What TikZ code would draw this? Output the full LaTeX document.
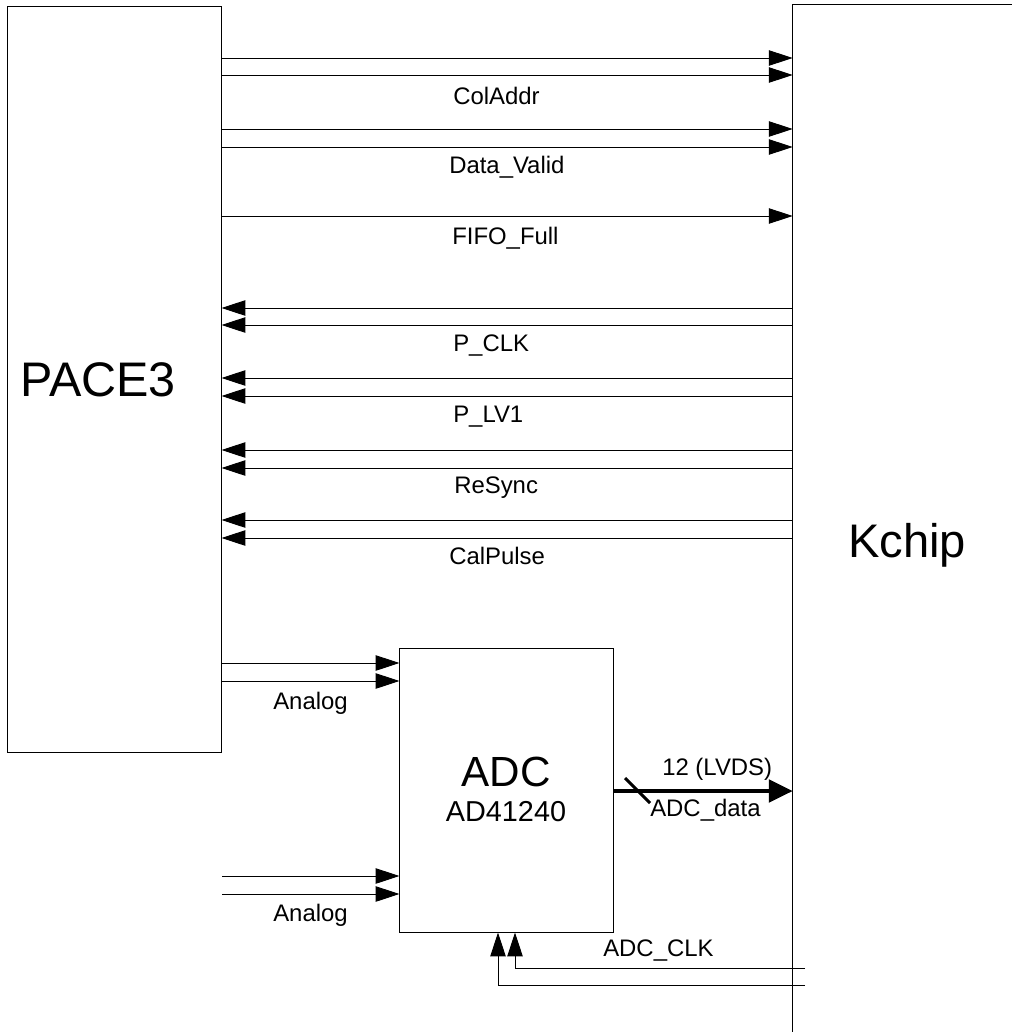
\documentclass[tikz,border=0pt]{standalone}
\usepackage{fontspec}
\setmainfont{Liberation Sans}
\usetikzlibrary{arrows.meta}

\tikzset{
  block/.style={draw, line width=0.7pt, inner sep=0pt},
  sig/.style={line width=0.7pt, -{Triangle[length=17pt,width=11pt]}},
  bus/.style={line width=2.8pt, -{Triangle[length=17pt,width=16pt]}},
  lab/.style={anchor=base west, inner sep=0pt, font=\fontsize{17}{20}\selectfont},
  big/.style={inner sep=0pt, font=\fontsize{34.5}{40}\selectfont},
}

\begin{document}
\begin{tikzpicture}[x=0.025cm, y=-0.025cm]
   \useasboundingbox (0,0) rectangle (1012,1032);
   \node[block, minimum width=5.325cm, minimum height=18.625cm] (pace) at (114.5,379.5) {};
   \node[big] (pacetxt) at (98,380) {PACE3};
   \node[inner sep=0pt, minimum width=5.475cm, minimum height=25.675cm] (kchip) at (902.5,518.5) {};
   \draw[line width=0.7pt] (kchip.north east) -- (kchip.north west) -- (kchip.south west);
   \node[inner sep=0pt, font=\fontsize{33.5}{38}\selectfont] (kchiptxt) at (907,545) {Kchip};
   \node[block, minimum width=5.325cm, minimum height=7.075cm] (adc) at (506.5,790.5) {};
   \node[inner sep=0pt, font=\fontsize{30}{34}\selectfont] (adctxt) at (506,772) {ADC};
   \node[inner sep=0pt, font=\fontsize{20.5}{24}\selectfont] (adcpart) at (506,812) {AD41240};

   % PACE3 -> Kchip
   \draw[sig] (pace.east |- 0,58) -- (kchip.west |- 0,58);
   \draw[sig] (pace.east |- 0,75) -- (kchip.west |- 0,75);
   \node[lab] (coladdr) at (453,104) {ColAddr};
   \draw[sig] (pace.east |- 0,129) -- (kchip.west |- 0,129);
   \draw[sig] (pace.east |- 0,147) -- (kchip.west |- 0,147);
   \node[lab] (datavalid) at (449,173) {Data\_Valid};
   \draw[sig] (pace.east |- 0,216) -- (kchip.west |- 0,216);
   \node[lab] (fifofull) at (452,244) {FIFO\_Full};

   % Kchip -> PACE3
   \draw[sig] (kchip.west |- 0,308) -- (pace.east |- 0,308);
   \draw[sig] (kchip.west |- 0,325) -- (pace.east |- 0,325);
   \node[lab] (pclk) at (453,351) {P\_CLK};
   \draw[sig] (kchip.west |- 0,378) -- (pace.east |- 0,378);
   \draw[sig] (kchip.west |- 0,396) -- (pace.east |- 0,396);
   \node[lab] (plv) at (453,422) {P\_LV1};
   \draw[sig] (kchip.west |- 0,450) -- (pace.east |- 0,450);
   \draw[sig] (kchip.west |- 0,468) -- (pace.east |- 0,468);
   \node[lab] (resync) at (454,493) {ReSync};
   \draw[sig] (kchip.west |- 0,520) -- (pace.east |- 0,520);
   \draw[sig] (kchip.west |- 0,538) -- (pace.east |- 0,538);
   \node[lab] (calpulse) at (449,564) {CalPulse};

   % analog inputs
   \draw[sig] (pace.east |- 0,663) -- (adc.west |- 0,663);
   \draw[sig] (pace.east |- 0,681) -- (adc.west |- 0,681);
   \node[lab] (analoga) at (273,709) {Analog};
   \coordinate (anain) at (222,876);
   \coordinate (anbin) at (222,894);
   \draw[sig] (anain) -- (adc.west |- anain);
   \draw[sig] (anbin) -- (adc.west |- anbin);
   \node[lab] (analogb) at (273,921) {Analog};

   % ADC data bus
   \draw[bus] (adc.east |- 0,791) -- (kchip.west |- 0,791);
   \draw[line width=2.2pt] (625,778) -- (650,803);
   \node[lab] (lvds) at (662,775) {12 (LVDS)};
   \node[lab] (adcdata) at (650,816) {ADC\_data};

   % ADC clock
   \coordinate (clka) at (805,968);
   \coordinate (clkb) at (805,985);
   \draw[sig] (clka) -| (adc.south -| 515,0);
   \draw[sig] (clkb) -| (adc.south -| 498,0);
   \node[lab] (adcclk) at (603,956) {ADC\_CLK};
\end{tikzpicture}
\end{document}
